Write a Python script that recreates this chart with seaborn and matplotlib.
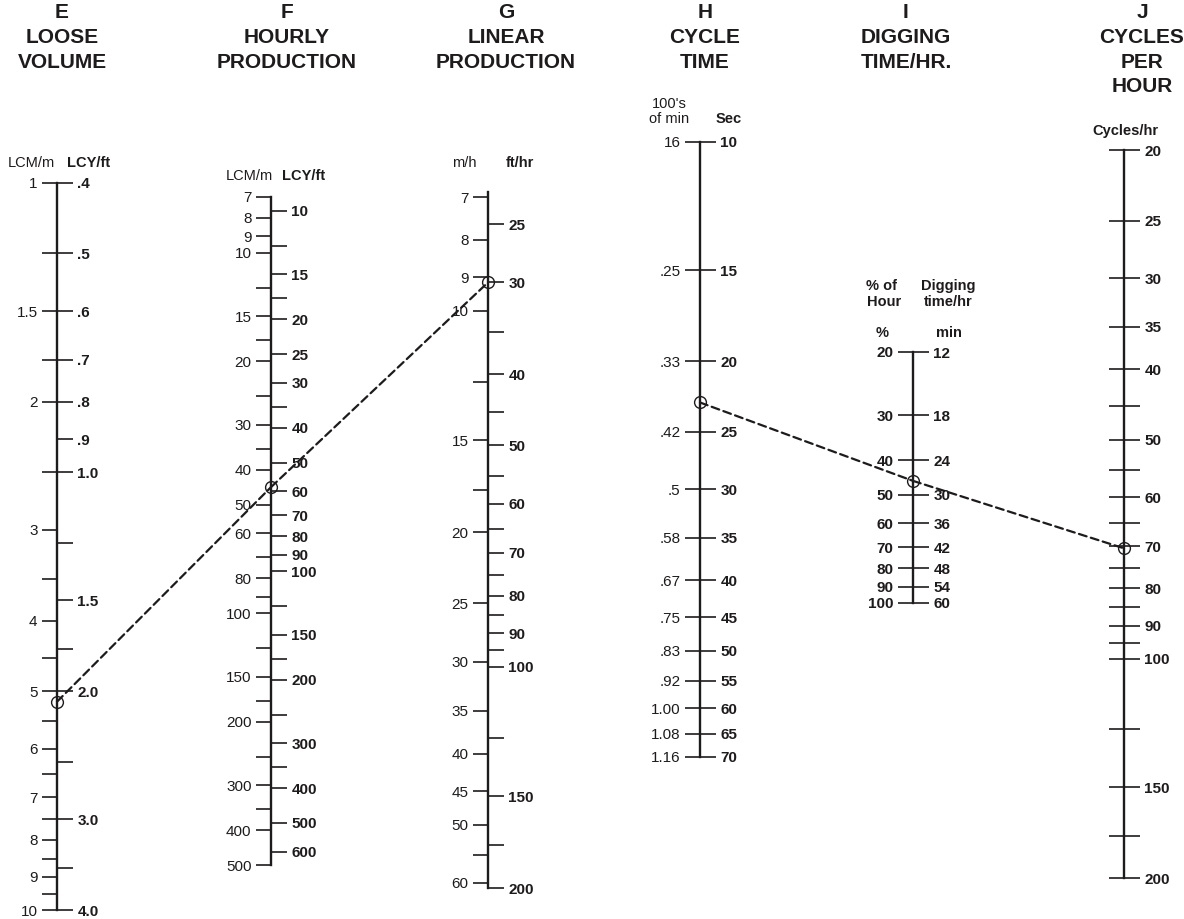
import matplotlib
matplotlib.use("Agg")
import matplotlib.pyplot as plt
from matplotlib.patches import ConnectionPatch
from matplotlib.ticker import NullFormatter
import seaborn as sns

sns.set_style("white")
plt.rcParams["font.family"] = ["Liberation Sans", "DejaVu Sans"]

INK = "#1e1b1c"
W, H = 1184, 919

# ---- scale values -------------------------------------------------------
E_lcm_major = [1, 1.5, 2, 3, 4, 5, 6, 7, 8, 9, 10]
E_lcm_labels = ["1", "1.5", "2", "3", "4", "5", "6", "7", "8", "9", "10"]
E_lcm_minor = [1.25, 1.75, 2.5, 3.5, 4.5, 5.5, 6.5, 7.5, 8.5, 9.5]
E_lcy_major = [0.4, 0.5, 0.6, 0.7, 0.8, 0.9, 1.0, 1.5, 2.0, 3.0, 4.0]
E_lcy_labels = [".4", ".5", ".6", ".7", ".8", ".9", "1.0", "1.5", "2.0", "3.0", "4.0"]
E_lcy_minor = [1.25, 1.75, 2.5, 3.5]

F_lcm_major = [7, 8, 9, 10, 15, 20, 30, 40, 50, 60, 80, 100, 150, 200, 300, 400, 500]
F_lcm_minor = [12.5, 17.5, 25, 35, 70, 90, 125, 175, 250, 350]
F_lcy_major = [10, 15, 20, 25, 30, 40, 50, 60, 70, 80, 90, 100, 150, 200, 300, 400, 500, 600]
F_lcy_minor = [12.5, 17.5, 35, 125, 175, 250, 350]

G_mh_major = [7, 8, 9, 10, 15, 20, 25, 30, 35, 40, 45, 50, 60]
G_mh_minor = [12.5, 17.5, 55]
G_ft_major = [25, 30, 40, 50, 60, 70, 80, 90, 100, 150, 200]
G_ft_minor = [35, 45, 55, 65, 75, 85, 95, 125, 175]

H_sec = [10, 15, 20, 25, 30, 35, 40, 45, 50, 55, 60, 65, 70]
H_min_labels = ["16", ".25", ".33", ".42", ".5", ".58", ".67", ".75", ".83",
                ".92", "1.00", "1.08", "1.16"]

I_pct = [20, 30, 40, 50, 60, 70, 80, 90, 100]
I_min = [12, 18, 24, 30, 36, 42, 48, 54, 60]

J_major = [20, 25, 30, 35, 40, 50, 60, 70, 80, 90, 100, 150, 200]
J_minor = [45, 55, 65, 75, 85, 95, 125, 175]

# conversion factors between the paired units
LCM_TO_LCY_E = 0.4
LCM_TO_LCY_F = 1.308
M_TO_FT = 3.281
PCT_TO_MIN = 0.6
G_FT_TOP = 22.6  # ft/hr value at the top end of scale G

# worked example
E_pt, F_pt, G_pt = 5.17, 44.7, 30
H_pt, I_pt, J_pt = 22.8, 45.7, 70.5

headers = [["E", "LOOSE", "VOLUME"],
           ["F", "HOURLY", "PRODUCTION"],
           ["G", "LINEAR", "PRODUCTION"],
           ["H", "CYCLE", "TIME"],
           ["I", "DIGGING", "TIME/HR."],
           ["J", "CYCLES", "PER", "HOUR"]]
header_x = [62, 287, 506, 705, 906, 1142]

fig = plt.figure(figsize=(W / 100, H / 100), dpi=100)


def scale_axis(x, top, bottom, lims):
    ax = fig.add_axes([x / W, 1 - bottom / H, 1.0 / W, (bottom - top) / H])
    ax.set_yscale("log")
    ax.set_ylim(lims)
    ax.set_xlim(0, 1)
    ax.patch.set_visible(False)
    for s in ["top", "right", "bottom"]:
        ax.spines[s].set_visible(False)
    ax.spines["left"].set_linewidth(1.7)
    ax.spines["left"].set_color(INK)
    ax.set_xticks([])
    return ax


def twin(ax, lims):
    tw = ax.twinx()
    tw.set_yscale("log")
    tw.set_ylim(lims)
    for s in tw.spines.values():
        s.set_visible(False)
    return tw


def ticks(ax, major, labels, minor, left=False, right=False,
          labelleft=False, labelright=False, bold=False):
    ax.set_yticks(major, labels)
    ax.set_yticks(minor, minor=True)
    ax.yaxis.set_minor_formatter(NullFormatter())
    ax.tick_params(axis="y", which="both", direction="out", length=11,
                   width=1.2, color=INK, labelcolor=INK, labelsize=11,
                   pad=3, left=left, right=right,
                   labelleft=labelleft, labelright=labelright)
    if bold:
        for t in ax.get_yticklabels():
            t.set_fontweight("bold")


def txt(x, y, s, ha="center", bold=False, size=10.5):
    fig.text(x / W, 1 - y / H, s, ha=ha, va="center", fontsize=size,
             fontweight="bold" if bold else "normal", color=INK)


def circle(ax, v):
    ax.plot([0], [v], marker="o", ms=8.5, mfc="none", mec=INK, mew=1.0,
            clip_on=False, zorder=5)


# E  loose volume
axE = scale_axis(57, 183, 910, (10, 1))
ticks(axE, E_lcm_major, E_lcm_labels, E_lcm_minor, left=True, labelleft=True)
twE = twin(axE, (10 * LCM_TO_LCY_E, 1 * LCM_TO_LCY_E))
ticks(twE, E_lcy_major, E_lcy_labels, E_lcy_minor, right=True, labelright=True, bold=True)

# F  hourly production
axF = scale_axis(271, 197, 865, (500, 7))
ticks(axF, F_lcm_major, [str(v) for v in F_lcm_major], F_lcm_minor,
      left=True, labelleft=True)
twF = twin(axF, (500 * LCM_TO_LCY_F, 7 * LCM_TO_LCY_F))
ticks(twF, F_lcy_major, [str(v) for v in F_lcy_major], F_lcy_minor,
      right=True, labelright=True, bold=True)

# G  linear production
axG = scale_axis(488, 192, 888, (200 / M_TO_FT, G_FT_TOP / M_TO_FT))
ticks(axG, G_mh_major, [str(v) for v in G_mh_major], G_mh_minor,
      left=True, labelleft=True)
twG = twin(axG, (200, G_FT_TOP))
ticks(twG, G_ft_major, [str(v) for v in G_ft_major], G_ft_minor,
      right=True, labelright=True, bold=True)

# H  cycle time
axH = scale_axis(700, 142, 757, (70, 10))
ticks(axH, H_sec, H_min_labels, [], left=True, labelleft=True)
twH = twin(axH, (70, 10))
ticks(twH, H_sec, [str(v) for v in H_sec], [], right=True, labelright=True, bold=True)

# I  digging time per hour
axI = scale_axis(913, 352, 603, (100, 20))
ticks(axI, I_pct, [str(v) for v in I_pct], [], left=True, labelleft=True, bold=True)
twI = twin(axI, (100 * PCT_TO_MIN, 20 * PCT_TO_MIN))
ticks(twI, I_min, [str(v) for v in I_min], [], right=True, labelright=True, bold=True)

# J  cycles per hour
axJ = scale_axis(1124, 150, 878, (200, 20))
ticks(axJ, J_major, [str(v) for v in J_major], J_minor,
      left=True, right=True, labelright=True, bold=True)

# worked example lines
for (a1, v1), (a2, v2) in [((axE, E_pt), (axF, F_pt)), ((axF, F_pt), (twG, G_pt)),
                           ((axH, H_pt), (axI, I_pt)), ((axI, I_pt), (axJ, J_pt))]:
    con = ConnectionPatch(xyA=(0, v1), coordsA=a1.transData,
                          xyB=(0, v2), coordsB=a2.transData,
                          color=INK, lw=1.6, ls=(0, (3.6, 2.0)), zorder=4)
    fig.add_artist(con)
for a, v in [(axE, E_pt), (axF, F_pt), (twG, G_pt), (axH, H_pt), (axI, I_pt), (axJ, J_pt)]:
    circle(a, v)

# headers
for x, lines in zip(header_x, headers):
    for i, line in enumerate(lines):
        txt(x, 13 + 24.5 * i, line, bold=True, size=15)

# unit captions
txt(55, 163, "LCM/m", ha="right")
txt(67, 163, "LCY/ft", ha="left", bold=True)
txt(273, 176, "LCM/m", ha="right")
txt(282, 176, "LCY/ft", ha="left", bold=True)
txt(477, 163, "m/h", ha="right")
txt(506, 163, "ft/hr", ha="left", bold=True)
txt(669, 104, "100's")
txt(669, 119, "of min")
txt(729, 119, "Sec", bold=True)
txt(881, 286, "% of", bold=True)
txt(884, 302, "Hour", bold=True)
txt(948, 286, "Digging", bold=True)
txt(948, 302, "time/hr", bold=True)
txt(882, 333, "%", bold=True)
txt(949, 333, "min", bold=True)
txt(1125, 131, "Cycles/hr", bold=True)

fig.savefig("out.png", dpi=100, facecolor="white")
